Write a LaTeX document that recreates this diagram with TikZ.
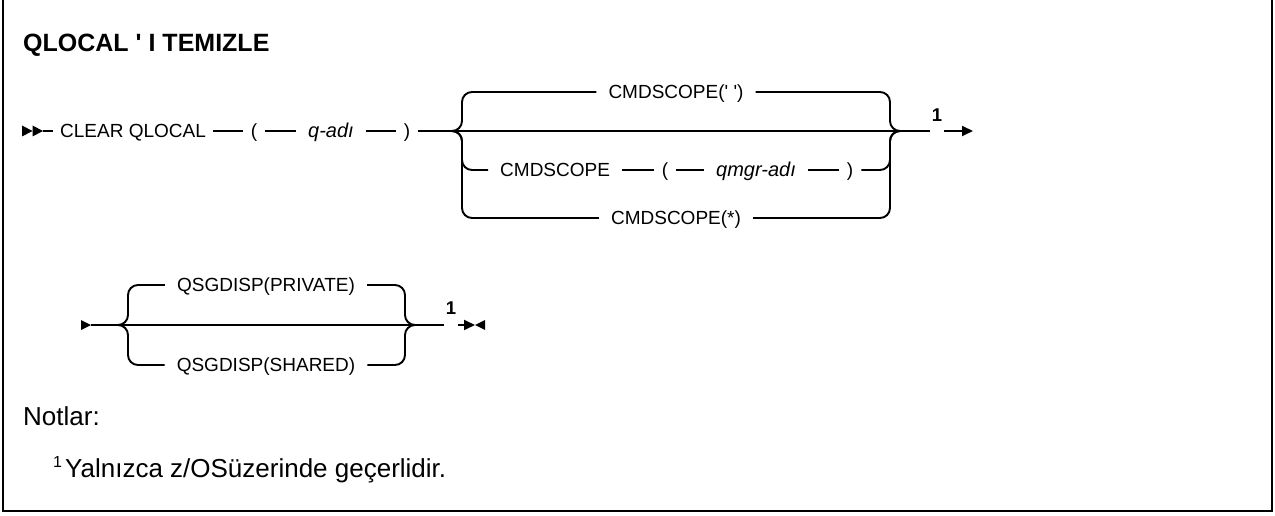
\documentclass[tikz,border=0pt]{standalone}
\usepackage{fontspec}
\setmainfont{Liberation Sans}
\usetikzlibrary{arrows.meta}
\begin{document}
\begin{tikzpicture}[x=1pt,y=-1pt,
  rail/.style={line width=1.9pt},
  lbl/.style={font=\fontsize{19pt}{21pt}\selectfont, text height=13.6pt, text depth=0pt, inner ysep=0pt, inner xsep=12pt},
  ital/.style={lbl, font=\fontsize{20pt}{22pt}\selectfont\itshape},
  paren/.style={lbl, inner xsep=8pt},
  fnum/.style={font=\fontsize{18.5pt}{20pt}\selectfont\bfseries, inner sep=2pt},
  endtip/.style={-{Triangle[length=11pt,width=10pt]}}
]
\useasboundingbox (0,0) rectangle (1275,516);
% frame
\draw[line width=2.4pt] (3,-3) -- (3,511) -- (1272,511) -- (1272,-3);

% title
\node[anchor=base west, inner sep=0pt, font=\fontsize{25pt}{28pt}\selectfont\bfseries] (title) at (23,52) {QLOCAL \textquotesingle\ I TEMIZLE};

% ---------- row 1 ----------
\fill (22,125.5) -- (32.5,131) -- (22,136.5) -- cycle;
\fill (32.5,125.5) -- (43,131) -- (32.5,136.5) -- cycle;
\coordinate (s1) at (43,131);
\node[lbl, anchor=west, inner xsep=7pt] (clear) at (53,131) {CLEAR QLOCAL};
\node[paren] (lp1) at (254,131) {(};
\node[ital] (qadi) at (331,131) {q-adı};
\node[paren] (rp1) at (407,131) {)};
\coordinate (b1L) at (452,131);
\coordinate (b1R) at (900,131);
\draw[rail] (s1) -- (clear.west);
\draw[rail] (clear.east) -- (lp1.west);
\draw[rail] (lp1.east) -- (qadi.west);
\draw[rail] (qadi.east) -- (rp1.west);
\draw[rail] (rp1.east) -- (b1L) -- (b1R);

\node[lbl] (cs1) at (676,92) {CMDSCOPE(\textquotesingle\ \textquotesingle)};
\node[lbl, anchor=west] (cs2) at (488,170) {CMDSCOPE};
\node[paren] (lp2) at (665,170) {(};
\node[ital] (qm) at (756,170) {qmgr-adı};
\node[paren] (rp2) at (850,170) {)};
\node[lbl] (cs3) at (676,218) {CMDSCOPE(*)};
\draw[rail] (cs2.east) -- (lp2.west);
\draw[rail] (lp2.east) -- (qm.west);
\draw[rail] (qm.east) -- (rp2.west);

\begin{scope}[rail, rounded corners=10pt]
\draw (b1L) -- ++(10,0) |- (cs1.west);
\draw (b1L) -- ++(10,0) |- (cs2.west);
\draw (b1L) -- ++(10,0) |- (cs3.west);
\draw (cs1.east) -| ([xshift=-10pt]b1R) -- (b1R);
\draw (rp2.east) -| ([xshift=-10pt]b1R) -- (b1R);
\draw (cs3.east) -| ([xshift=-10pt]b1R) -- (b1R);
\end{scope}

\node[fnum] (n1a) at (937,115) {1};
\coordinate (e1) at (973,131);
\draw[rail] (b1R) -- (b1R -| n1a.west);
\draw[rail, endtip] (b1R -| n1a.east) -- (e1);

% ---------- row 2 ----------
\fill (81,320) -- (91,325) -- (81,330) -- cycle;
\coordinate (s2) at (91,325);
\coordinate (b2L) at (118,325);
\coordinate (b2R) at (415,325);
\node[lbl] (qp) at (266,285) {QSGDISP(PRIVATE)};
\node[lbl] (qs) at (266,365) {QSGDISP(SHARED)};
\draw[rail] (s2) -- (b2L) -- (b2R);
\begin{scope}[rail, rounded corners=10pt]
\draw (b2L) -- ++(10,0) |- (qp.west);
\draw (b2L) -- ++(10,0) |- (qs.west);
\draw (qp.east) -| ([xshift=-10pt]b2R) -- (b2R);
\draw (qs.east) -| ([xshift=-10pt]b2R) -- (b2R);
\end{scope}
\node[fnum] (n1b) at (451,308) {1};
\coordinate (e2) at (475,325);
\draw[rail] (b2R) -- (b2R -| n1b.west);
\draw[rail, endtip] (b2R -| n1b.east) -- (e2);
\fill (485,320) -- (475,325) -- (485,330) -- cycle;

% ---------- notes ----------
\node[anchor=base west, inner sep=0pt, font=\fontsize{26pt}{28pt}\selectfont] (notes) at (23,425) {Notlar:};
\node[anchor=base west, inner sep=0pt, font=\fontsize{16pt}{18pt}\selectfont] (fnsup) at (53,467) {1};
\node[anchor=base west, inner sep=0pt, font=\fontsize{26pt}{28pt}\selectfont] (fntext) at (65,477) {Yalnızca z/OSüzerinde geçerlidir.};
\end{tikzpicture}
\end{document}
